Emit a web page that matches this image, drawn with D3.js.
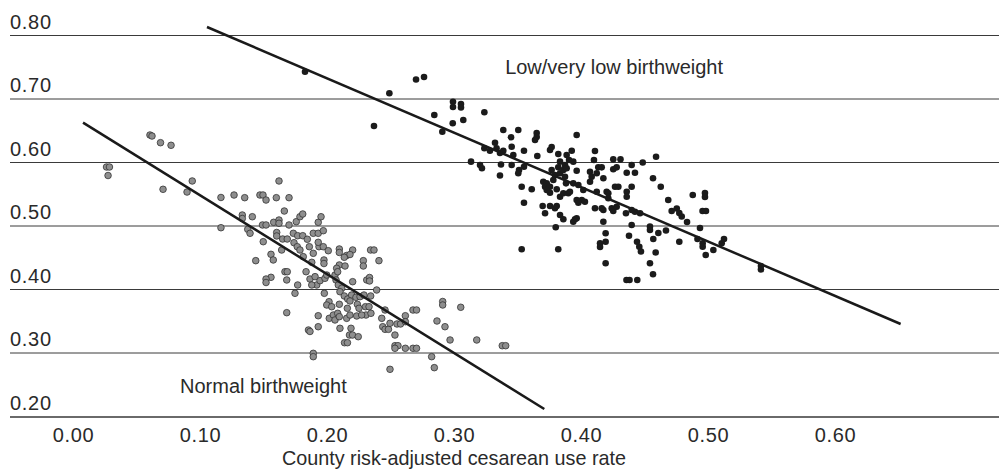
<!DOCTYPE html>
<html>
<head>
<meta charset="utf-8">
<script src="https://cdn.jsdelivr.net/npm/d3@7"></script>
<style>
  body { margin: 0; background: #fff; }
  svg text { font-family: "Liberation Sans", Arial, sans-serif; fill: #2a2a2a; }
</style>
</head>
<body>
<div id="chart"></div>
<script>
var width = 999;
var height = 471;

// tick values
var xTicks = [0, 0.1, 0.2, 0.3, 0.4, 0.5, 0.6];
var yTicks = [0.2, 0.3, 0.4, 0.5, 0.6, 0.7, 0.8];

// normal birthweight counties (cesarean rate, outcome)
var normalX = [0.0264, 0.0287, 0.0276, 0.0606, 0.0622, 0.0689, 0.0772, 0.0709, 0.0898, 0.0939,
  0.1165, 0.1165, 0.1268, 0.1352, 0.1472, 0.1496, 0.1520, 0.1601, 0.1622, 0.1701,
  0.1664, 0.1333, 0.1333, 0.1412, 0.1376, 0.1492, 0.1520, 0.1580, 0.1622, 0.1622,
  0.1701, 0.1758, 0.1787, 0.1809, 0.1394, 0.1498, 0.1604, 0.1604, 0.1651, 0.1687,
  0.1735, 0.1769, 0.1809, 0.1845, 0.1931, 0.1953, 0.1892, 0.1931, 0.1971, 0.1740,
  0.1766, 0.1787, 0.1643, 0.1559, 0.1577, 0.1439, 0.1861, 0.1892, 0.1937, 0.1931,
  0.1971, 0.2010, 0.1976, 0.1976, 0.1813, 0.1880, 0.2097, 0.2097, 0.2202, 0.2154,
  0.2181, 0.2136, 0.2343, 0.2370, 0.2286, 0.2286, 0.2409, 0.2097, 0.2076, 0.2142,
  0.1669, 0.1687, 0.1559, 0.1520, 0.1520, 0.1683, 0.1835, 0.1866, 0.1906, 0.1919,
  0.1945, 0.1984, 0.1998, 0.2063, 0.2084, 0.2071, 0.2089, 0.2116, 0.2202, 0.2313,
  0.2335, 0.2335, 0.1769, 0.1748, 0.1880, 0.1979, 0.2102, 0.2136, 0.2163, 0.2194,
  0.2228, 0.2260, 0.2291, 0.2344, 0.2391, 0.2016, 0.1998, 0.2037, 0.2097, 0.2160,
  0.2181, 0.2239, 0.2252, 0.2303, 0.2331, 0.2307, 0.2346, 0.2018, 0.2050, 0.2063,
  0.2084, 0.2097, 0.2155, 0.2181, 0.2234, 0.2273, 0.1931, 0.1683, 0.1931, 0.1854,
  0.1866, 0.2102, 0.2189, 0.2177, 0.2201, 0.2246, 0.2138, 0.2161, 0.2431, 0.2439,
  0.2457, 0.2484, 0.2496, 0.2457, 0.2535, 0.2535, 0.2559, 0.2551, 0.2579, 0.1892,
  0.1892, 0.2496, 0.2911, 0.2911, 0.3053, 0.2677, 0.2705, 0.2617, 0.2617, 0.2866,
  0.2929, 0.2969, 0.3179, 0.3380, 0.3407, 0.2535, 0.2617, 0.2677, 0.2705, 0.2824,
  0.2845];
var normalY = [0.5929, 0.5929, 0.5795, 0.6433, 0.6417, 0.6312, 0.6271, 0.5578, 0.5535, 0.5709,
  0.5449, 0.4973, 0.5488, 0.5446, 0.5488, 0.5488, 0.5409, 0.5446, 0.5709, 0.5446,
  0.5236, 0.5173, 0.5118, 0.5146, 0.4948, 0.5016, 0.5016, 0.5058, 0.5094, 0.5043,
  0.5016, 0.5068, 0.5146, 0.5189, 0.4885, 0.4753, 0.4898, 0.4843, 0.4795, 0.4795,
  0.4885, 0.4847, 0.4847, 0.4791, 0.5058, 0.5146, 0.4885, 0.4885, 0.4926, 0.4737,
  0.4674, 0.4622, 0.4622, 0.4554, 0.4465, 0.4454, 0.4674, 0.4570, 0.4674, 0.4743,
  0.4674, 0.4611, 0.4465, 0.4409, 0.4517, 0.4428, 0.4638, 0.4583, 0.4622, 0.4535,
  0.4551, 0.4507, 0.4622, 0.4622, 0.4454, 0.4370, 0.4454, 0.4386, 0.4334, 0.4370,
  0.4280, 0.4280, 0.4192, 0.4165, 0.4110, 0.4150, 0.4280, 0.4165, 0.4202, 0.4071,
  0.4139, 0.4176, 0.4228, 0.4228, 0.4280, 0.4150, 0.4071, 0.4019, 0.4123, 0.4150,
  0.4189, 0.4134, 0.4071, 0.3940, 0.4071, 0.3940, 0.3965, 0.3898, 0.3850, 0.3913,
  0.3877, 0.3887, 0.3913, 0.3898, 0.3992, 0.3808, 0.3756, 0.3729, 0.3767, 0.3704,
  0.3819, 0.3767, 0.3704, 0.3729, 0.3729, 0.3598, 0.3625, 0.3546, 0.3598, 0.3520,
  0.3625, 0.3572, 0.3546, 0.3598, 0.3583, 0.3598, 0.3587, 0.3635, 0.3414, 0.3362,
  0.3339, 0.3389, 0.3389, 0.3283, 0.3283, 0.3257, 0.3162, 0.3162, 0.3546, 0.3414,
  0.3373, 0.3373, 0.3468, 0.3677, 0.3283, 0.3115, 0.3115, 0.3457, 0.3457, 0.2995,
  0.2942, 0.2743, 0.3811, 0.3756, 0.3720, 0.3677, 0.3677, 0.3587, 0.3493, 0.3504,
  0.3414, 0.3205, 0.3205, 0.3115, 0.3115, 0.3074, 0.3074, 0.3074, 0.3074, 0.2942,
  0.2769];

// low / very low birthweight counties
var lowX = [0.1827, 0.2491, 0.2701, 0.2764, 0.2992, 0.2992, 0.3055, 0.3055, 0.3239, 0.2845,
  0.3073, 0.2990, 0.2370, 0.2908, 0.3323, 0.3239, 0.3283, 0.3335, 0.3362, 0.3134,
  0.3205, 0.3220, 0.3370, 0.3362, 0.3388, 0.3506, 0.3449, 0.3651, 0.3651, 0.3638,
  0.3966, 0.3388, 0.3454, 0.3467, 0.3551, 0.3756, 0.3769, 0.3821, 0.3656, 0.3887,
  0.3927, 0.3906, 0.3835, 0.3874, 0.3939, 0.4110, 0.4102, 0.4254, 0.4311, 0.4399,
  0.4486, 0.4591, 0.3454, 0.3512, 0.3506, 0.3551, 0.3769, 0.3821, 0.3795, 0.3835,
  0.3861, 0.3874, 0.3887, 0.3966, 0.4071, 0.4084, 0.4136, 0.4163, 0.4124, 0.4176,
  0.4254, 0.4281, 0.4360, 0.4425, 0.3703, 0.3730, 0.3717, 0.3756, 0.3782, 0.3882,
  0.3939, 0.3979, 0.4071, 0.4567, 0.3533, 0.3612, 0.3730, 0.3809, 0.3756, 0.4018,
  0.4124, 0.4202, 0.4215, 0.4268, 0.4294, 0.4360, 0.4399, 0.4628, 0.3835, 0.3861,
  0.3900, 0.3913, 0.3551, 0.3966, 0.4006, 0.4031, 0.3979, 0.4215, 0.4360, 0.4687,
  0.4880, 0.4976, 0.4976, 0.4957, 0.4984, 0.3698, 0.3756, 0.3795, 0.3809, 0.4110,
  0.4176, 0.4163, 0.4242, 0.4254, 0.4281, 0.4354, 0.4399, 0.4425, 0.4465, 0.3717,
  0.3835, 0.3861, 0.3953, 0.3939, 0.3966, 0.4176, 0.4399, 0.4714, 0.4754, 0.4774,
  0.4793, 0.4835, 0.4937, 0.4543, 0.4543, 0.4609, 0.4669, 0.4917, 0.4958, 0.4958,
  0.4982, 0.5042, 0.5108, 0.5126, 0.5417, 0.5417, 0.4569, 0.4774, 0.3801, 0.3533,
  0.3821, 0.4194, 0.4194, 0.4150, 0.4150, 0.4378, 0.4441, 0.4459, 0.4472, 0.4588,
  0.4543, 0.4194, 0.4567, 0.4358, 0.4382, 0.4443];
var lowY = [0.7430, 0.7090, 0.7307, 0.7346, 0.6957, 0.6874, 0.6921, 0.6866, 0.6791, 0.6748,
  0.6669, 0.6617, 0.6575, 0.6485, 0.6312, 0.6224, 0.6186, 0.6224, 0.6150, 0.6013,
  0.5961, 0.5909, 0.5969, 0.5795, 0.6512, 0.6512, 0.6397, 0.6465, 0.6402, 0.6354,
  0.6433, 0.6186, 0.6249, 0.6118, 0.6186, 0.6197, 0.6244, 0.6134, 0.6102, 0.6118,
  0.6186, 0.6039, 0.6013, 0.5961, 0.6013, 0.6181, 0.6039, 0.6050, 0.6050, 0.5961,
  0.6000, 0.6091, 0.5961, 0.5882, 0.5830, 0.5934, 0.5882, 0.5924, 0.5803, 0.5830,
  0.5882, 0.5776, 0.5909, 0.5871, 0.5855, 0.5776, 0.5924, 0.5924, 0.5830, 0.5751,
  0.5893, 0.5924, 0.5839, 0.5839, 0.5698, 0.5672, 0.5619, 0.5619, 0.5724, 0.5672,
  0.5672, 0.5646, 0.5698, 0.5751, 0.5619, 0.5578, 0.5567, 0.5578, 0.5524, 0.5567,
  0.5540, 0.5540, 0.5515, 0.5619, 0.5619, 0.5540, 0.5619, 0.5619, 0.5461, 0.5515,
  0.5515, 0.5540, 0.5367, 0.5409, 0.5409, 0.5383, 0.5367, 0.5436, 0.5461, 0.5409,
  0.5488, 0.5520, 0.5457, 0.5236, 0.5236, 0.5315, 0.5315, 0.5279, 0.5315, 0.5279,
  0.5252, 0.5279, 0.5279, 0.5236, 0.5304, 0.5200, 0.5252, 0.5225, 0.5200, 0.5200,
  0.5173, 0.5106, 0.5106, 0.5068, 0.5121, 0.5068, 0.5016, 0.5236, 0.5276, 0.5205,
  0.5150, 0.5063, 0.4969, 0.4992, 0.4937, 0.4890, 0.4929, 0.4795, 0.4728, 0.4674,
  0.4543, 0.4622, 0.4728, 0.4795, 0.4370, 0.4315, 0.4795, 0.4753, 0.4980, 0.4633,
  0.4633, 0.4885, 0.4753, 0.4728, 0.4669, 0.4847, 0.4753, 0.4674, 0.4598, 0.4583,
  0.4413, 0.4413, 0.4239, 0.4150, 0.4150, 0.4150];

// fitted lines (end points)
var normalFitX = [0.0079, 0.3711];
var normalFitY = [0.6627, 0.2118];
var lowFitX = [0.1055, 0.6517];
var lowFitY = [0.8134, 0.3457];

var svg = d3.select('#chart')
  .append('svg')
  .attr('width', width)
  .attr('height', height);

var x = d3.scaleLinear().domain([0, 0.6]).range([73, 835]);
var y = d3.scaleLinear().domain([0.2, 0.8]).range([416.5, 35.5]);

// horizontal grid lines
svg.append('g')
  .selectAll('line')
  .data(yTicks.filter(function(d) { return d > 0.2; }))
  .enter()
  .append('line')
  .attr('x1', 10)
  .attr('x2', width)
  .attr('y1', function(d) { return y(d); })
  .attr('y2', function(d) { return y(d); })
  .attr('stroke', '#3a3a3a')
  .attr('stroke-width', 1);

// baseline
svg.append('line')
  .attr('x1', 10)
  .attr('x2', width)
  .attr('y1', y(0.2) + 0.5)
  .attr('y2', y(0.2) + 0.5)
  .attr('stroke', '#6a6a6a')
  .attr('stroke-width', 2);

// y labels sit just above their line
svg.append('g')
  .selectAll('text')
  .data(yTicks)
  .enter()
  .append('text')
  .attr('x', 10)
  .attr('y', function(d) { return y(d) - 7; })
  .style('font-size', '20px')
  .style('letter-spacing', '0.7px')
  .text(function(d) { return d3.format('.2f')(d); });

// x axis labels
var xAxis = d3.axisBottom(x)
  .tickValues(xTicks)
  .tickSize(0)
  .tickFormat(d3.format('.2f'));

var gx = svg.append('g')
  .attr('transform', 'translate(0,' + y(0.2) + ')')
  .call(xAxis);
gx.select('.domain').remove();
gx.selectAll('text')
  .attr('y', 25)
  .attr('dy', 0)
  .attr('fill', null)
  .style('font-size', '20px')
  .style('letter-spacing', '0.7px')
  .style('font-family', '"Liberation Sans", Arial, sans-serif');

svg.append('text')
  .attr('x', 454)
  .attr('y', 465)
  .attr('text-anchor', 'middle')
  .style('font-size', '19.8px')
  .text('County risk-adjusted cesarean use rate');

// dots
svg.append('g')
  .selectAll('circle')
  .data(normalX)
  .enter()
  .append('circle')
  .attr('cx', function(d) { return x(d); })
  .attr('cy', function(d, i) { return y(normalY[i]); })
  .attr('r', 3.3)
  .attr('fill', '#8e8e8e')
  .attr('stroke', '#333')
  .attr('stroke-width', 0.8);

svg.append('g')
  .selectAll('circle')
  .data(lowX)
  .enter()
  .append('circle')
  .attr('cx', function(d) { return x(d); })
  .attr('cy', function(d, i) { return y(lowY[i]); })
  .attr('r', 3.3)
  .attr('fill', '#1b1b1b');

// fitted lines
var line = d3.line()
  .x(function(d) { return x(d[0]); })
  .y(function(d) { return y(d[1]); });

svg.append('path')
  .datum(d3.zip(normalFitX, normalFitY))
  .attr('d', line)
  .attr('fill', 'none')
  .attr('stroke', '#1a1a1a')
  .attr('stroke-width', 2.5);

svg.append('path')
  .datum(d3.zip(lowFitX, lowFitY))
  .attr('d', line)
  .attr('fill', 'none')
  .attr('stroke', '#1a1a1a')
  .attr('stroke-width', 2.5);

// group labels
svg.append('text')
  .attr('x', 180)
  .attr('y', 392.5)
  .style('font-size', '20px')
  .text('Normal birthweight');

svg.append('text')
  .attr('x', 723)
  .attr('y', 74)
  .attr('text-anchor', 'end')
  .style('font-size', '20px')
  .text('Low/very low birthweight');
</script>
</body>
</html>
